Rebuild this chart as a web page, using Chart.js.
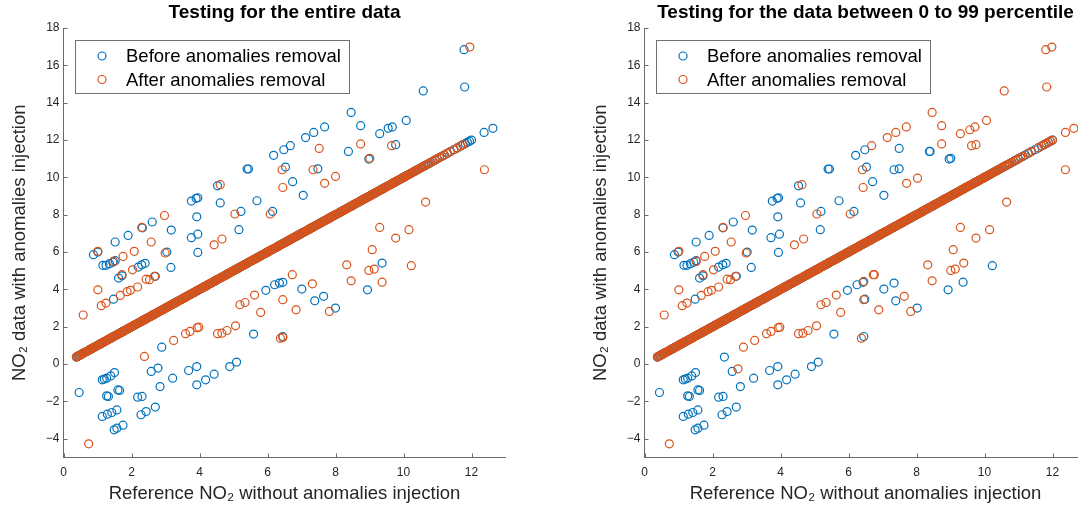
<!DOCTYPE html>
<html>
<head>
<meta charset="utf-8">
<script src="https://cdn.jsdelivr.net/npm/chart.js@4.4.1/dist/chart.umd.min.js"></script>
<style>
html, body { margin: 0; padding: 0; background: #fff; overflow: hidden; width: 1078px; height: 513px; }
#left { position: absolute; left: 0; top: 0; }
#right { position: absolute; left: 581px; top: 0; }
</style>
</head>
<body>
<canvas id="left" width="539" height="513"></canvas>
<canvas id="right" width="539" height="513"></canvas>
<script>

// ---- data ----
const seriesNames = ['Before anomalies removal', 'After anomalies removal'];
const titles = ['Testing for the entire data', 'Testing for the data between 0 to 99 percentile'];
const xTicks = [0, 2, 4, 6, 8, 10, 12];
const yTicks = [-4, -2, 0, 2, 4, 6, 8, 10, 12, 14, 16, 18];

// reference values where the series sit on y = x (after removal equals reference)
const diagRef = [
  0.38, 0.41, 0.45, 0.48, 0.52, 0.55, 0.59, 0.62, 0.66, 0.69, 0.73, 0.76, 0.80, 0.83, 0.87, 0.90,
  0.94, 0.97, 1.01, 1.04, 1.08, 1.11, 1.15, 1.18, 1.22, 1.25, 1.29, 1.32, 1.36, 1.39, 1.43, 1.46,
  1.50, 1.53, 1.57, 1.60, 1.64, 1.67, 1.71, 1.74, 1.78, 1.81, 1.85, 1.88, 1.92, 1.95, 1.99, 2.02,
  2.06, 2.09, 2.13, 2.16, 2.20, 2.23, 2.27, 2.30, 2.34, 2.37, 2.41, 2.44, 2.48, 2.51, 2.55, 2.58,
  2.62, 2.65, 2.69, 2.72, 2.76, 2.79, 2.83, 2.86, 2.90, 2.93, 2.97, 3.00, 3.04, 3.07, 3.11, 3.14,
  3.18, 3.21, 3.25, 3.28, 3.32, 3.35, 3.39, 3.42, 3.46, 3.49, 3.53, 3.56, 3.60, 3.63, 3.67, 3.70,
  3.74, 3.77, 3.81, 3.84, 3.88, 3.91, 3.95, 3.98, 4.02, 4.05, 4.09, 4.12, 4.16, 4.19, 4.23, 4.26,
  4.30, 4.33, 4.37, 4.40, 4.44, 4.47, 4.51, 4.54, 4.58, 4.61, 4.65, 4.68, 4.72, 4.75, 4.79, 4.82,
  4.86, 4.89, 4.93, 4.96, 5.00, 5.03, 5.07, 5.10, 5.14, 5.17, 5.21, 5.24, 5.28, 5.31, 5.35, 5.38,
  5.42, 5.45, 5.49, 5.52, 5.56, 5.59, 5.63, 5.66, 5.70, 5.73, 5.77, 5.80, 5.84, 5.87, 5.91, 5.94,
  5.98, 6.01, 6.05, 6.08, 6.12, 6.15, 6.19, 6.22, 6.26, 6.29, 6.33, 6.36, 6.40, 6.43, 6.47, 6.50,
  6.54, 6.57, 6.61, 6.64, 6.68, 6.71, 6.75, 6.78, 6.82, 6.85, 6.89, 6.92, 6.96, 6.99, 7.03, 7.06,
  7.10, 7.13, 7.17, 7.20, 7.24, 7.27, 7.31, 7.34, 7.38, 7.41, 7.45, 7.48, 7.52, 7.55, 7.59, 7.62,
  7.66, 7.69, 7.73, 7.76, 7.80, 7.83, 7.87, 7.90, 7.94, 7.97, 8.01, 8.04, 8.08, 8.11, 8.15, 8.18,
  8.22, 8.25, 8.29, 8.32, 8.36, 8.39, 8.43, 8.46, 8.50, 8.53, 8.57, 8.60, 8.64, 8.67, 8.71, 8.74,
  8.78, 8.81, 8.85, 8.88, 8.92, 8.95, 8.99, 9.02, 9.06, 9.09, 9.13, 9.16, 9.20, 9.23, 9.27, 9.30,
  9.34, 9.37, 9.41, 9.44, 9.48, 9.51, 9.55, 9.58, 9.62, 9.65, 9.69, 9.72, 9.76, 9.79, 9.83, 9.86,
  9.90, 9.93, 9.97, 10.00, 10.04, 10.07, 10.11, 10.14, 10.18, 10.22, 10.26, 10.30, 10.34, 10.38, 10.42, 10.46,
  10.51, 10.55, 10.60, 10.65, 10.70, 10.75, 10.81, 10.87, 10.93, 10.99, 11.06, 11.13, 11.20, 11.29, 11.38, 11.48,
  11.58, 11.68
];
const diagTail = [11.75, 11.82, 11.88, 11.94, 12.0];
const leftAfterDiag = diagRef.concat([11.75]);
const rightAfterDiag = diagRef.filter(v => v !== 11.2 && v !== 11.48).concat(diagTail);
const beforeDiag = diagRef.concat(diagTail);

// left panel, off-diagonal points
const leftBeforeX = [
  11.78, 11.80, 10.58, 8.46, 8.74, 10.08, 9.67, 9.55, 9.30, 12.37, 12.63, 9.77, 8.38, 8.98, 7.68, 7.36,
  7.12, 6.67, 6.48, 6.18, 6.53, 7.48, 6.74, 7.05, 5.69, 6.15, 5.40, 5.44, 5.22, 5.16, 4.61, 4.53,
  3.90, 3.95, 3.76, 3.92, 3.95, 3.76, 3.95, 3.17, 3.16, 3.04, 2.61, 2.32, 1.90, 1.52, 0.88, 1.01,
  1.16, 1.25, 1.35, 1.45, 1.52, 1.62, 1.72, 2.20, 2.30, 2.40, 2.70, 1.47,
  9.37, 8.94, 8.00, 7.65, 7.39, 7.01, 6.45, 6.35, 6.21, 5.95, 5.59, 6.45, 5.09, 4.89, 4.43, 4.18,
  3.92, 3.92, 3.68, 3.21, 2.84, 2.89, 2.58, 2.78, 2.70, 2.43, 2.28, 2.18, 2.31, 0.46, 1.14, 1.20,
  1.27, 1.39, 1.50, 1.27, 1.32, 1.60, 1.65, 1.14, 1.29, 1.42, 1.57, 1.49, 1.57, 1.75
];
const leftBeforeY = [
  16.84, 14.84, 14.63, 13.48, 12.77, 13.05, 12.70, 12.63, 12.34, 12.41, 12.63, 11.75, 11.39, 10.98, 12.70, 12.41,
  12.13, 11.70, 11.48, 11.18, 10.55, 10.46, 9.77, 9.04, 8.75, 8.18, 10.45, 10.45, 8.18, 7.20, 8.63, 9.55,
  8.88, 8.91, 8.73, 7.89, 6.96, 6.77, 5.98, 7.18, 5.18, 6.00, 7.61, 7.30, 6.89, 6.54, 5.86, 6.00,
  5.29, 5.29, 5.38, 5.46, 5.54, 4.61, 4.73, 5.20, 5.32, 5.40, 4.70, 3.48,
  5.41, 3.98, 3.00, 3.63, 3.39, 4.02, 4.38, 4.34, 4.25, 3.95, 1.61, 1.48, 0.11, -0.13, -0.54, -0.84,
  -1.11, -0.13, -0.34, -0.75, -1.20, 0.91, -0.39, -0.21, -2.30, -2.54, -2.71, -1.77, -1.73, -1.52, -0.84, -0.80,
  -0.75, -0.63, -0.45, -1.70, -1.73, -1.38, -1.41, -2.80, -2.68, -2.59, -2.45, -3.52, -3.43, -3.27
];
const leftAfterX = [
  11.95, 9.65, 8.74, 9.01, 7.52, 7.34, 7.68, 8.00, 6.43, 6.45, 6.08, 5.04, 4.61, 4.66, 4.43, 2.97,
  2.99, 2.58, 2.30, 2.08, 1.01, 1.75, 1.47, 2.03, 1.72, 2.43, 2.53, 2.68, 1.01, 1.11, 1.25, 1.67,
  1.87, 1.97, 2.18, 0.58,
  12.38, 10.65, 10.16, 9.77, 9.30, 9.08, 8.98, 9.14, 9.37, 8.46, 8.33, 10.23, 6.73, 7.32, 6.45, 6.84,
  7.82, 5.62, 5.80, 5.19, 5.34, 5.06, 4.81, 4.66, 4.53, 3.98, 3.93, 3.72, 3.59, 3.24, 2.38, 6.38,
  6.45, 0.74
];
const leftAfterY = [
  16.98, 11.70, 11.79, 11.02, 11.55, 10.41, 9.68, 10.05, 10.41, 9.46, 8.04, 8.04, 9.61, 6.70, 6.39, 7.96,
  5.95, 6.54, 7.32, 6.04, 6.04, 5.77, 5.50, 5.05, 4.79, 4.55, 4.52, 4.70, 3.98, 3.13, 3.27, 3.68,
  3.88, 3.95, 4.13, 2.63,
  10.41, 8.68, 7.20, 6.75, 7.32, 6.13, 5.02, 5.09, 4.39, 4.46, 5.32, 5.27, 4.79, 4.30, 3.45, 2.91,
  2.82, 3.70, 2.77, 3.18, 3.30, 2.05, 1.80, 1.66, 1.63, 1.98, 1.95, 1.75, 1.63, 1.27, 0.41, 1.39,
  1.43, -4.27
];

// right panel, off-diagonal points
const rightBeforeX = [
  6.48, 6.21, 7.49, 8.38, 8.40, 8.96, 9.01, 6.53, 7.34, 7.49, 5.40, 5.44, 6.71, 7.04, 5.72, 6.16,
  5.19, 5.17, 4.59, 4.53, 3.90, 3.94, 3.76, 3.92, 3.97, 3.72, 3.94, 3.17, 3.14, 3.02, 2.61, 2.31,
  1.90, 1.52, 0.88, 0.99, 1.16, 1.25, 1.35, 1.45, 1.52, 1.62, 1.72, 2.18, 2.30, 2.40, 2.70, 1.49,
  10.23, 9.37, 8.93, 8.02, 7.39, 7.34, 7.04, 6.48, 6.43, 6.25, 5.97, 5.57, 6.45, 5.11, 4.91, 4.43,
  4.18, 3.92, 3.92, 3.68, 3.21, 2.82, 2.35, 2.58, 2.70, 2.43, 2.28, 2.18, 2.31, 0.44, 1.14, 1.20,
  1.27, 1.39, 1.50, 1.27, 1.32, 1.57, 1.62, 1.14, 1.29, 1.42, 1.57, 1.49, 1.57, 1.75
];
const rightBeforeY = [
  11.48, 11.18, 11.55, 11.39, 11.39, 10.98, 11.02, 10.55, 10.41, 10.46, 10.45, 10.45, 9.77, 9.04, 8.75, 8.18,
  8.18, 7.20, 8.63, 9.55, 8.88, 8.91, 8.73, 7.89, 6.96, 6.77, 5.98, 7.18, 5.18, 6.00, 7.61, 7.30,
  6.89, 6.54, 5.86, 6.00, 5.29, 5.29, 5.38, 5.46, 5.54, 4.61, 4.73, 5.20, 5.32, 5.40, 4.70, 3.48,
  5.27, 4.39, 3.98, 3.00, 3.39, 4.34, 4.02, 3.48, 4.38, 4.25, 3.95, 1.61, 1.48, 0.11, -0.13, -0.54,
  -0.84, -1.11, -0.13, -0.34, -0.75, -1.20, 0.38, -0.39, -2.30, -2.54, -2.71, -1.77, -1.73, -1.52, -0.84, -0.80,
  -0.75, -0.63, -0.45, -1.70, -1.73, -1.38, -1.41, -2.80, -2.68, -2.59, -2.45, -3.52, -3.43, -3.27
];
const rightAfterX = [
  11.98, 11.80, 11.83, 10.58, 8.46, 8.74, 10.06, 9.72, 9.57, 9.29, 12.38, 12.63, 12.38, 9.75, 9.62, 8.74,
  7.70, 7.39, 7.14, 6.68, 6.41, 6.43, 7.71, 8.03, 6.05, 5.07, 4.63, 4.68, 4.41, 2.97, 2.99, 2.55,
  2.31, 2.08, 1.01, 1.77, 1.52, 2.03, 1.72, 2.43, 2.53, 2.68, 1.01, 1.11, 1.25, 1.67, 1.87, 1.97,
  2.18, 0.58,
  10.65, 10.15, 9.75, 9.29, 9.08, 9.01, 9.14, 9.39, 8.46, 8.33, 6.73, 6.76, 6.45, 7.64, 6.89, 7.83,
  6.45, 5.64, 5.77, 5.19, 5.34, 5.06, 4.81, 4.66, 4.53, 3.98, 3.93, 3.72, 3.59, 3.24, 2.91, 2.75,
  6.38, 0.73
];
const rightAfterY = [
  16.98, 16.84, 14.84, 14.63, 13.48, 12.77, 13.05, 12.70, 12.55, 12.34, 12.41, 12.63, 10.41, 11.75, 11.70, 11.79,
  12.70, 12.41, 12.13, 11.70, 10.41, 9.46, 9.68, 9.96, 8.04, 8.04, 9.61, 6.70, 6.39, 7.96, 5.95, 6.54,
  7.32, 6.04, 6.04, 5.77, 5.50, 5.05, 4.79, 4.55, 4.52, 4.70, 3.98, 3.13, 3.27, 3.68, 3.88, 3.95,
  4.13, 2.63,
  8.68, 7.20, 6.75, 7.32, 6.13, 5.02, 5.09, 5.41, 4.46, 5.32, 4.79, 4.79, 4.43, 3.63, 2.91, 2.82,
  3.45, 3.70, 2.77, 3.18, 3.30, 2.05, 1.80, 1.66, 1.63, 1.98, 1.95, 1.75, 1.63, 1.27, 0.91, -0.25,
  1.39, -4.27
];

// ---- drawing ----
const BLUE = '#0072BD';
const ORANGE = '#D95319';
const AXIS = '#6b6b6b';
const TEXT = '#262626';
const FONT = "'Liberation Sans', Arial, Helvetica, sans-serif";
const R = 4;

const pts = (xs, ys) => xs.map((x, i) => ({ x: x, y: ys[i] }));
const onDiag = vs => vs.map(v => ({ x: v, y: v }));

const inwardTicks = {
  id: 'inwardTicks',
  afterDraw(chart) {
    const { ctx, chartArea: a, scales: { x, y } } = chart;
    ctx.save();
    ctx.strokeStyle = AXIS;
    ctx.lineWidth = 1;
    ctx.beginPath();
    xTicks.forEach(v => {
      const px = Math.round(x.getPixelForValue(v)) + 0.5;
      ctx.moveTo(px, a.bottom);
      ctx.lineTo(px, a.bottom - 4);
    });
    yTicks.forEach(v => {
      const py = Math.round(y.getPixelForValue(v)) + 0.5;
      ctx.moveTo(a.left, py);
      ctx.lineTo(a.left + 4, py);
    });
    ctx.stroke();
    ctx.restore();
  }
};

const boxLegend = {
  id: 'boxLegend',
  afterDraw(chart) {
    const { ctx, chartArea: a } = chart;
    const bx = Math.round(a.left + 11) + 0.5, by = Math.round(a.top + 12) + 0.5;
    const bw = 274, bh = 53;
    ctx.save();
    ctx.fillStyle = '#fff';
    ctx.fillRect(bx, by, bw, bh);
    ctx.strokeStyle = '#707070';
    ctx.lineWidth = 1;
    ctx.strokeRect(bx, by, bw, bh);
    [BLUE, ORANGE].forEach((c, i) => {
      const cy = by + 15.5 + i * 23.5;
      ctx.beginPath();
      ctx.arc(bx + 26.5, cy, R, 0, Math.PI * 2);
      ctx.strokeStyle = c;
      ctx.lineWidth = 1.2;
      ctx.stroke();
      ctx.fillStyle = '#000';
      ctx.font = '18.5px ' + FONT;
      ctx.textBaseline = 'middle';
      ctx.textAlign = 'left';
      ctx.fillText(seriesNames[i], bx + 50.5, cy + 1);
    });
    ctx.restore();
  }
};

function makeChart(id, title, bX, bY, bDiag, aX, aY, aDiag) {
  const marker = c => ({
    showLine: false,
    pointStyle: 'circle',
    pointRadius: R,
    pointHoverRadius: R,
    pointBorderWidth: 1.2,
    borderColor: c,
    backgroundColor: 'rgba(0,0,0,0)'
  });
  return new Chart(document.getElementById(id), {
    type: 'scatter',
    data: {
      datasets: [
        Object.assign({ label: seriesNames[0], order: 2, data: pts(bX, bY).concat(onDiag(bDiag)) }, marker(BLUE)),
        Object.assign({ label: seriesNames[1], order: 1, data: pts(aX, aY).concat(onDiag(aDiag)) }, marker(ORANGE))
      ]
    },
    options: {
      responsive: false,
      animation: false,
      events: [],
      layout: { padding: { left: 0, right: 33.5, top: 0, bottom: 0 }, autoPadding: false },
      plugins: {
        legend: { display: false },
        tooltip: { enabled: false },
        title: {
          display: true,
          text: title,
          fullSize: false,
          color: '#000',
          font: { family: FONT, size: 19, weight: 'bold', lineHeight: 1.2 },
          padding: { top: 1, bottom: 4.2 }
        }
      },
      scales: {
        x: {
          type: 'linear',
          min: 0,
          max: 13,
          afterBuildTicks: s => { s.ticks = xTicks.map(v => ({ value: v })); },
          afterFit: s => { s.height = 55.5; },
          grid: { display: false, drawTicks: false },
          border: { display: true, color: AXIS, width: 1 },
          ticks: { color: TEXT, padding: 8, font: { family: FONT, size: 12 } },
          title: {
            display: true,
            text: 'Reference NO₂ without anomalies injection',
            color: TEXT,
            font: { family: FONT, size: 18.5, lineHeight: 1.2 },
            padding: { top: 0, bottom: 7.6 }
          }
        },
        y: {
          type: 'linear',
          min: -5,
          max: 18,
          afterBuildTicks: s => { s.ticks = yTicks.map(v => ({ value: v })); },
          afterFit: s => { s.width = 63.5; },
          grid: { display: false, drawTicks: false },
          border: { display: true, color: AXIS, width: 1 },
          ticks: {
            color: TEXT,
            padding: 4,
            font: { family: FONT, size: 12 },
            callback: v => (v < 0 ? '\u2212' + Math.abs(v) : String(v))
          },
          title: {
            display: true,
            text: 'NO₂ data with anomalies injection',
            color: TEXT,
            font: { family: FONT, size: 18.5, lineHeight: 1.2 },
            padding: { top: 9, bottom: 0 }
          }
        }
      }
    },
    plugins: [inwardTicks, boxLegend]
  });
}

makeChart('left', titles[0], leftBeforeX, leftBeforeY, beforeDiag, leftAfterX, leftAfterY, leftAfterDiag);
makeChart('right', titles[1], rightBeforeX, rightBeforeY, beforeDiag, rightAfterX, rightAfterY, rightAfterDiag);
</script>
</body>
</html>
